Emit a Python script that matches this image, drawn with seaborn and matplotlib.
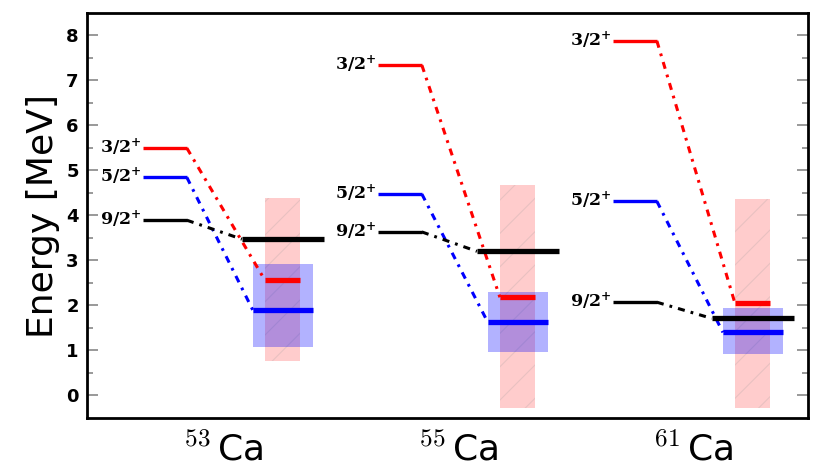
import numpy as np
import pandas as pd
import matplotlib
matplotlib.use("Agg")
import matplotlib.pyplot as plt
import seaborn as sns

# ---- data ----
nuclei = [r"$^{53}\,$Ca", r"$^{55}\,$Ca", r"$^{61}\,$Ca"]
states = ["3/2", "5/2", "9/2"]
state_labels = [r"$\mathbf{3/2}^{\mathbf{+}}$", r"$\mathbf{5/2}^{\mathbf{+}}$", r"$\mathbf{9/2}^{\mathbf{+}}$"]
colors = ["#ff0000", "#0000ff", "#000000"]

# left-hand (reference) levels, per nucleus: [3/2+, 5/2+, 9/2+]
left_53 = [5.49, 4.84, 3.89]
left_55 = [7.33, 4.47, 3.63]
left_61 = [7.87, 4.31, 2.07]
# right-hand (calculated) levels
right_53 = [2.56, 1.89, 3.47]
right_55 = [2.18, 1.62, 3.20]
right_61 = [2.05, 1.40, 1.71]
# uncertainty bands
band32_lo = [0.76, -0.27, -0.27]
band32_hi = [4.38, 4.67, 4.36]
band52_lo = [1.07, 0.96, 0.91]
band52_hi = [2.91, 2.29, 1.95]

left = [left_53, left_55, left_61]
right = [right_53, right_55, right_61]

sns.set_theme(style="white")
plt.rcParams["mathtext.fontset"] = "cm"
plt.rcParams["font.family"] = ["DejaVu Sans"]
plt.rcParams["hatch.linewidth"] = 0.8
plt.rcParams["text.color"] = "black"
plt.rcParams["axes.labelcolor"] = "black"
plt.rcParams["ytick.labelcolor"] = "black"
plt.rcParams["xtick.labelcolor"] = "black"

fig = plt.figure(figsize=(8.18, 4.76), dpi=100)
ax = fig.add_axes([87 / 818, 58 / 476, 721 / 818, 405 / 476])

# geometry within each group
left_span = (0.0, 0.187)
right_span = {"3/2": (0.519, 0.668), "5/2": (0.468, 0.723), "9/2": (0.421, 0.77)}
dash = (0, (2.3, 2.0, 0.9, 2.0))

for g in range(3):
    # bands
    x0, x1 = right_span["3/2"]
    ax.fill_between([g + x0, g + x1], band32_lo[g], band32_hi[g],
                    facecolor=(1, 0, 0, 0.2), edgecolor=(0.6, 0.6, 0.6, 0.22),
                    hatch="/", linewidth=0, zorder=1)
    x0, x1 = right_span["5/2"]
    ax.fill_between([g + x0, g + x1], band52_lo[g], band52_hi[g],
                    facecolor=(0, 0, 1, 0.3), linewidth=0, zorder=2)
    for s, (st, lab, c) in enumerate(zip(states, state_labels, colors)):
        yl = left[g][s]
        yr = right[g][s]
        ax.hlines(yl, g + left_span[0], g + left_span[1], color=c, lw=2.4, zorder=4)
        rx0, rx1 = right_span[st]
        ax.hlines(yr, g + rx0, g + rx1, color=c, lw=3.8, zorder=5)
        ax.plot([g + left_span[1], g + rx0], [yl, yr], color=c, lw=2.2,
                linestyle=dash, zorder=3)
        ax.text(g - 0.004, yl + 0.03, lab, ha="right", va="center", fontsize=12.5,
                color="black", zorder=6, math_fontfamily="dejavuserif")

ax.set_xlim(-0.238, 2.83)
ax.set_ylim(-0.5, 8.49)
ax.set_xticks([g + 0.34 for g in range(3)])
ax.set_xticklabels(nuclei, fontsize=26)
ax.tick_params(axis="x", length=0, pad=10)
ax.set_yticks(range(0, 9))
ax.set_yticks(np.arange(0.5, 8.5, 1.0), minor=True)
ax.tick_params(axis="y", which="both", direction="in", left=True, right=True,
               color="#888888", width=1.2)
ax.tick_params(axis="y", which="major", length=8, pad=6)
ax.tick_params(axis="y", which="minor", length=4)
for t in ax.get_yticklabels():
    t.set_fontweight("bold")
    t.set_fontsize(13)
    t.set_color("black")
ax.set_ylabel("Energy [MeV]", fontsize=26, labelpad=4, color="black")
for sp in ax.spines.values():
    sp.set_color("black")
    sp.set_linewidth(2)

fig.savefig("out.png", dpi=100)
